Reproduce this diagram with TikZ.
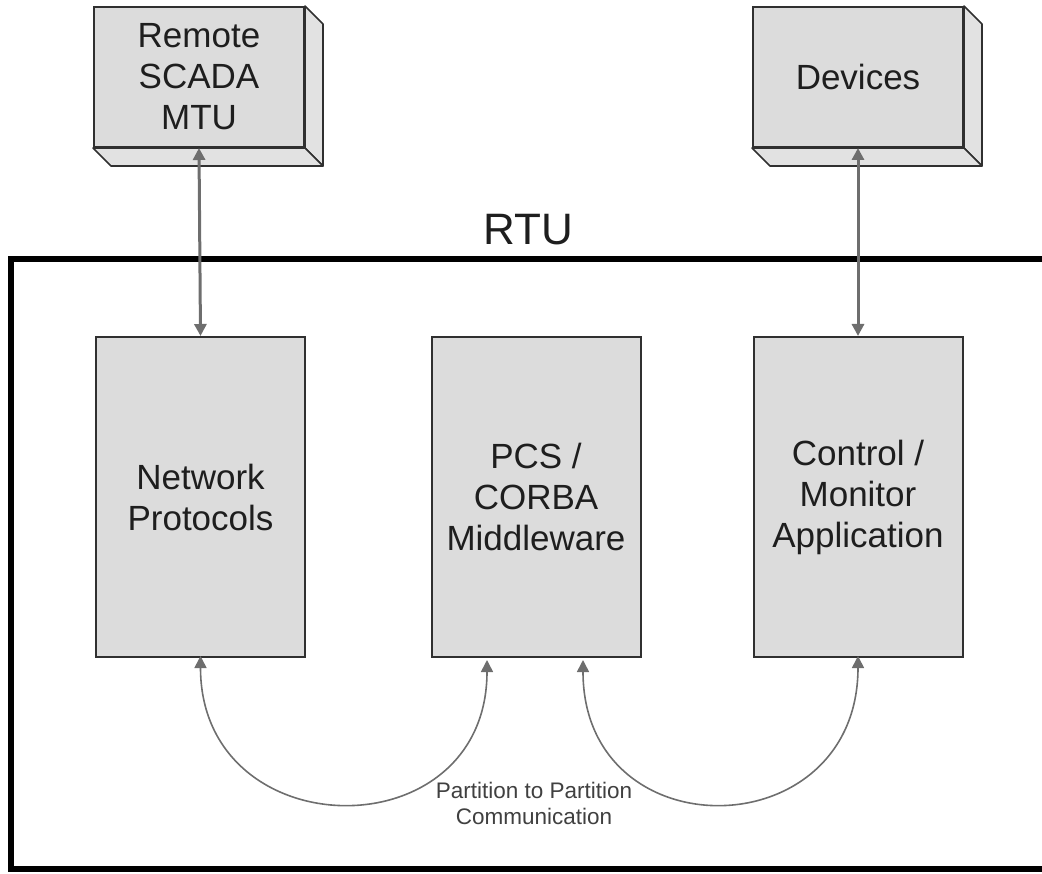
\documentclass[tikz,border=0pt]{standalone}
\usepackage{fontspec}
\setmainfont{Liberation Sans}
\usetikzlibrary{arrows.meta}
\definecolor{boxfill}{HTML}{DCDCDC}
\definecolor{sidefill}{HTML}{E2E2E2}
\definecolor{boxline}{HTML}{303030}
\definecolor{arrgray}{HTML}{6E6E6E}
\definecolor{txt}{HTML}{1E1E1E}
\tikzset{
  part/.style={draw=boxline, fill=boxfill, line width=2pt, minimum width=209pt, minimum height=320pt, inner sep=0pt,
    align=center, text=txt, font=\fontsize{35}{41}\selectfont},
  front/.style={draw=boxline, fill=boxfill, line width=2pt, minimum width=210pt, minimum height=140pt, inner sep=0pt,
    align=center, text=txt, font=\fontsize{35}{41}\selectfont},
  side/.style={draw=boxline, fill=sidefill, line width=1.6pt, line join=round},
  arr/.style={draw=arrgray, line width=3pt, {Triangle[length=12pt,width=12pt]}-{Triangle[length=12pt,width=12pt]}},
  frame/.style={draw=black, line width=6pt},
}
\begin{document}
\begin{tikzpicture}[x=1pt,y=-1pt]
\useasboundingbox (0,0) rectangle (1042,874);
\clip (0,0) rectangle (1042,874);
% RTU frame (right edge lies beyond the picture)
\draw[frame] (1060,259) -- (11,259) -- (11,869) -- (1060,869);
\node[font=\fontsize{44}{50}\selectfont, text=txt] (rtu) at (528,230) {RTU};
% top 3D boxes
\node[front] (mtu) at (199,77) {Remote\\SCADA\\MTU};
\node[front] (dev) at (858,77) {Devices};
\foreach \b in {mtu,dev}{
  \filldraw[side] (\b.north east) -- ([shift={(18,18)}]\b.north east) -- ([shift={(18,18)}]\b.south east) -- (\b.south east) -- cycle;
  \filldraw[side] (\b.south west) -- ([shift={(18,18)}]\b.south west) -- ([shift={(18,18)}]\b.south east) -- (\b.south east) -- cycle;
}
\node[front] at (mtu) {Remote\\SCADA\\MTU};
\node[front] at (dev) {Devices};
% partitions
\node[part] (net) at (200.5,497) {Network\\Protocols};
\node[part] (pcs) at (536,497) {PCS /\\CORBA\\Middleware};
\node[part] (ctl) at (858,497) {Control /\\Monitor\\Application};
% vertical links
\draw[arr] (mtu.south) -- (net.north);
\draw[arr] (dev.south) -- (ctl.north);
% partition to partition arcs
\coordinate (a1) at ([yshift=2pt]net.south);
\coordinate (a2) at ([shift={(-49,2)}]pcs.south);
\coordinate (b1) at ([shift={(47,2)}]pcs.south);
\coordinate (b2) at ([yshift=2pt]ctl.south);
\draw[arr, line width=1.6pt] (a1) .. controls +(0,193) and +(0,193) .. (a2);
\draw[arr, line width=1.6pt] (b1) .. controls +(0,193) and +(0,193) .. (b2);
\node[font=\fontsize{22.5}{26}\selectfont, text=txt!85!white, align=center, fill=white, inner sep=1pt] (lbl) at (534,803) {Partition to Partition\\Communication};
\end{tikzpicture}
\end{document}
